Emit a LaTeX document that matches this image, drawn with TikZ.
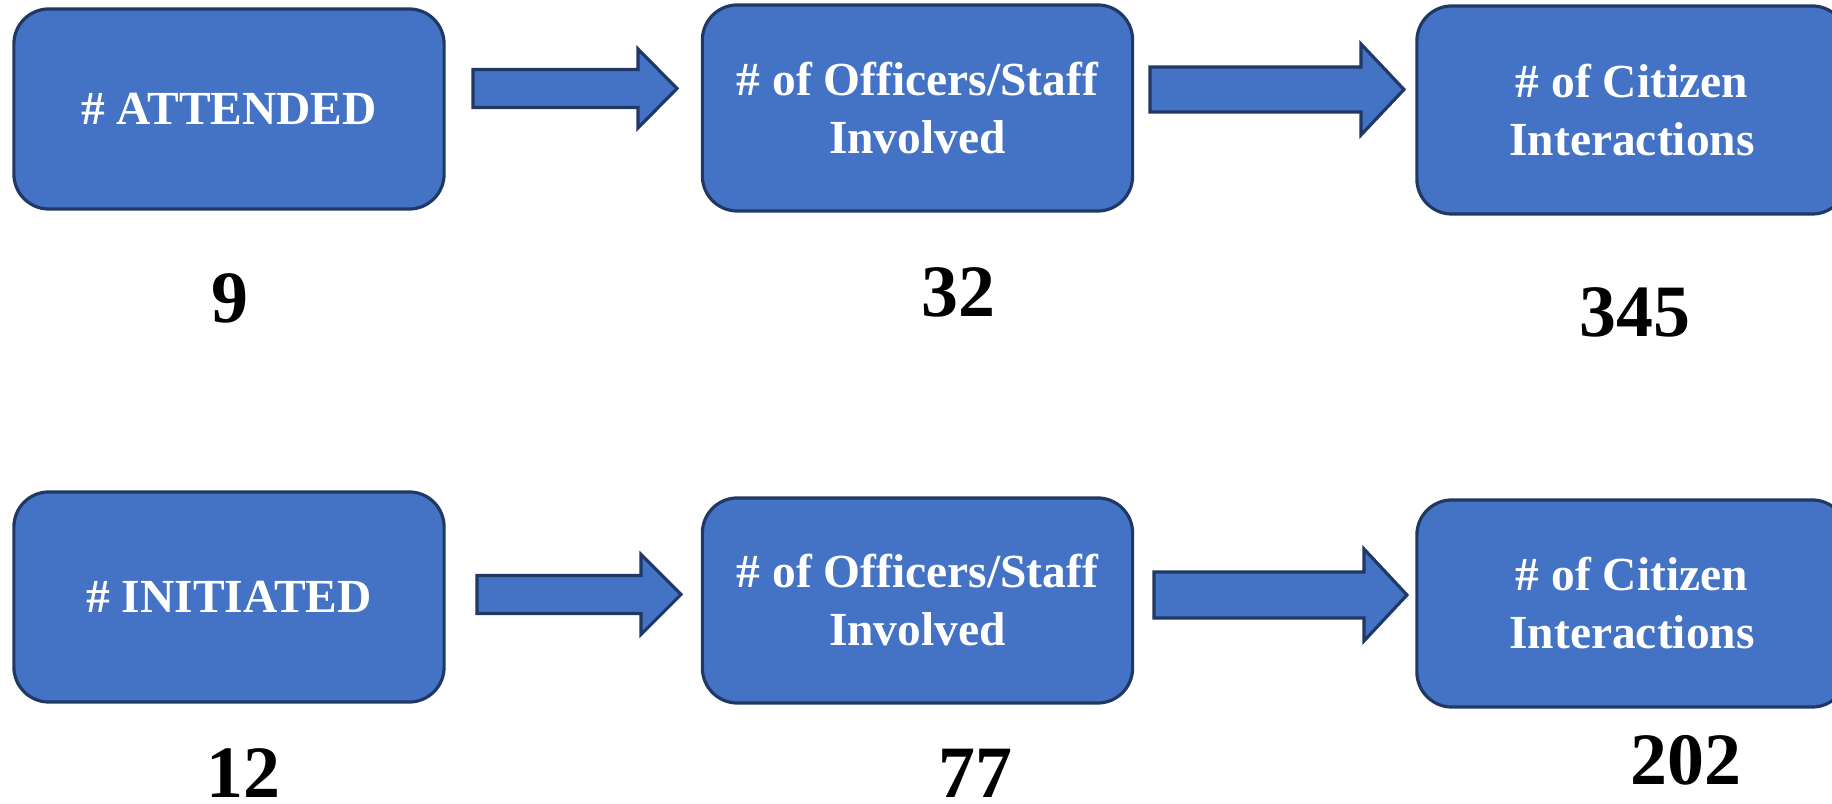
\documentclass[tikz,border=0pt]{standalone}
\usepackage{fontspec}
\setmainfont{Liberation Serif}
\definecolor{boxblue}{HTML}{4472C4}
\definecolor{boxline}{HTML}{1F3864}
\newcommand{\blockarrow}[7]{%
  \coordinate (#1) at (#3,#5);
  \draw[barrow] (#2,#5-#6) -- (#3,#5-#6) -- (#3,#5-#7) -- (#4,#5) -- (#3,#5+#7) -- (#3,#5+#6) -- (#2,#5+#6) -- cycle;}
\begin{document}
\begin{tikzpicture}[x=0.01cm,y=-0.01cm,
  box/.style={draw=boxline, fill=boxblue, line width=0.9pt, rounded corners=0.35cm,
    minimum width=4.3cm, text=white, font=\bfseries\fontsize{13.5}{16.5}\selectfont,
    align=center, inner sep=0pt},
  num/.style={font=\bfseries\fontsize{21}{24}\selectfont, text=black, inner sep=0pt},
  barrow/.style={draw=boxline, fill=boxblue, line width=0.9pt, line join=miter}]
\useasboundingbox (0,0) rectangle (1832,804);
\clip (0,0) rectangle (1832,804);
% top row
\node[box, minimum height=2.0cm] (b1) at (229,109) {\# ATTENDED};
\node[box, minimum height=2.06cm] (b2) at (917.5,108) {\# of Officers/Staff\\Involved};
\node[box, minimum height=2.08cm] (b3) at (1632,110) {\# of Citizen\\Interactions};
\blockarrow{a1}{473}{638}{677}{88.5}{19}{39.5}
\blockarrow{a2}{1150}{1361}{1404}{89.5}{22.5}{45.5}
\node[num] (n1) at (230,298) {9};
\node[num] (n2) at (958,292) {32};
\node[num] (n3) at (1635,312) {345};
% bottom row
\node[box, minimum height=2.1cm] (b4) at (229,597) {\# INITIATED};
\node[box, minimum height=2.05cm] (b5) at (917.5,600.5) {\# of Officers/Staff\\Involved};
\node[box, minimum height=2.07cm] (b6) at (1632,603.5) {\# of Citizen\\Interactions};
\blockarrow{a3}{477}{641}{681}{594.5}{19}{40}
\blockarrow{a4}{1154}{1364}{1407}{595}{23}{46}
\node[num] (n4) at (243,773) {12};
\node[num] (n5) at (975,773) {77};
\node[num] (n6) at (1686,760) {202};
\end{tikzpicture}
\end{document}
